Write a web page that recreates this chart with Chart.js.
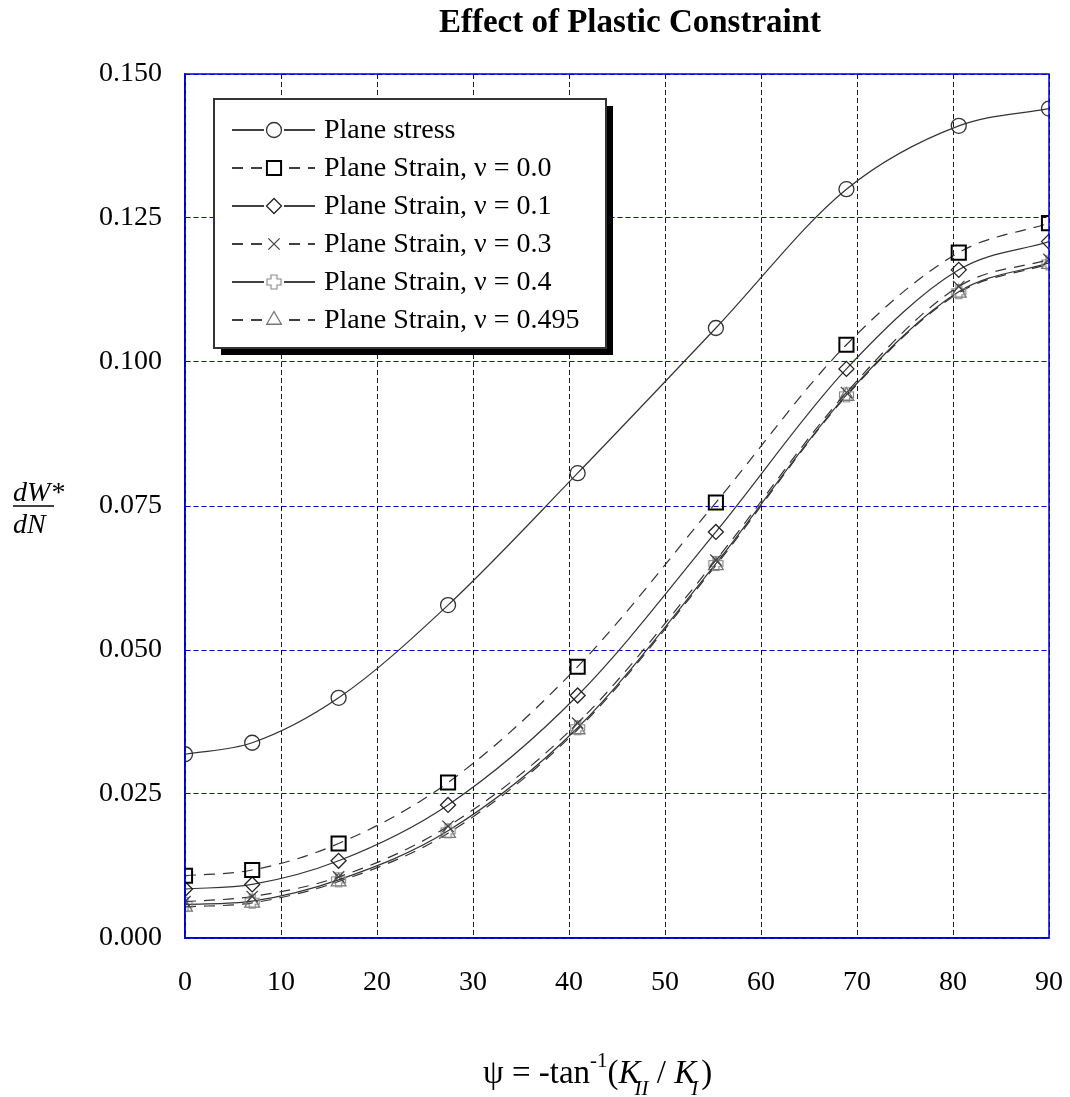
<!DOCTYPE html>
<html>
<head>
<meta charset="utf-8">
<script src="https://cdn.jsdelivr.net/npm/chart.js@4/dist/chart.umd.min.js"></script>
<style>
  html, body { margin: 0; padding: 0; background: #fff; }
  #wrap { width: 1070px; height: 1097px; position: relative; }
</style>
</head>
<body>
<div id="wrap"><canvas id="c"></canvas></div>
<script>
// psi angles (deg) where the runs were done
const psiVals = [0, 7, 16, 27.4, 40.9, 55.3, 68.9, 80.6, 90];

const planeStress = [0.0319, 0.0339, 0.0417, 0.0578, 0.0807, 0.1059, 0.1300, 0.1410, 0.1440];
const strainNu00  = [0.0108, 0.0118, 0.0164, 0.0270, 0.0471, 0.0756, 0.1030, 0.1190, 0.1241];
const strainNu01  = [0.0085, 0.0093, 0.0134, 0.0231, 0.0421, 0.0705, 0.0988, 0.1160, 0.1209];
const strainNu03  = [0.0063, 0.0072, 0.0106, 0.0194, 0.0373, 0.0656, 0.0947, 0.1131, 0.1178];
const strainNu04  = [0.0058, 0.0064, 0.0101, 0.0186, 0.0365, 0.0650, 0.0943, 0.1122, 0.1172];
const strainNu495 = [0.0054, 0.0061, 0.0098, 0.0182, 0.0362, 0.0647, 0.0941, 0.1120, 0.1170];

const seriesLabels = [
  'Plane stress',
  'Plane Strain, \u03bd = 0.0',
  'Plane Strain, \u03bd = 0.1',
  'Plane Strain, \u03bd = 0.3',
  'Plane Strain, \u03bd = 0.4',
  'Plane Strain, \u03bd = 0.495'
];

const xTicks = [0, 10, 20, 30, 40, 50, 60, 70, 80, 90];
const yTicks = [0, 0.025, 0.05, 0.075, 0.1, 0.125, 0.15];

const SERIF = '"Liberation Serif", "Times New Roman", serif';
const BLUE = '#0000d0';
const DASH = [11, 8];

// hollow plus marker, as in the original plot
function hollowPlus(color) {
  const cv = document.createElement('canvas');
  cv.width = 17; cv.height = 17;
  const g = cv.getContext('2d');
  const a = 5.5, b = 11.5, lo = 1.5, hi = 15.5;
  g.strokeStyle = color;
  g.lineWidth = 1.2;
  g.beginPath();
  g.moveTo(a, lo); g.lineTo(b, lo); g.lineTo(b, a); g.lineTo(hi, a);
  g.lineTo(hi, b); g.lineTo(b, b); g.lineTo(b, hi); g.lineTo(a, hi);
  g.lineTo(a, b); g.lineTo(lo, b); g.lineTo(lo, a); g.lineTo(a, a);
  g.closePath();
  g.stroke();
  return cv;
}

function pts(ys) {
  return ys.map((y, i) => ({ x: psiVals[i], y }));
}

function series(label, ys, opts) {
  return Object.assign({
    label,
    data: pts(ys),
    borderColor: '#333',
    borderWidth: 1.2,
    cubicInterpolationMode: 'monotone',
    pointBackgroundColor: 'rgba(0,0,0,0)',
    pointBorderWidth: 1.3,
    pointHoverRadius: 0
  }, opts);
}

const datasets = [
  series(seriesLabels[0], planeStress, { pointStyle: 'circle', pointRadius: 7.5, pointBorderColor: '#333' }),
  series(seriesLabels[1], strainNu00, { borderDash: DASH, pointStyle: 'rect', pointRadius: 10, pointBorderColor: '#000', pointBorderWidth: 2 }),
  series(seriesLabels[2], strainNu01, { pointStyle: 'rectRot', pointRadius: 7.5, pointBorderColor: '#222' }),
  series(seriesLabels[3], strainNu03, { borderDash: DASH, pointStyle: 'crossRot', pointRadius: 8, pointBorderColor: '#444' }),
  series(seriesLabels[4], strainNu04, { pointStyle: hollowPlus('#888'), pointRadius: 8, pointBorderColor: '#888' }),
  series(seriesLabels[5], strainNu495, { borderDash: DASH, pointStyle: 'triangle', pointRadius: 8.5, pointBorderColor: '#777' })
];

// frame, axis titles and the boxed legend
const decor = {
  id: 'decor',
  afterDatasetsDraw(chart) {
    const { ctx, chartArea: a } = chart;
    ctx.save();
    ctx.strokeStyle = BLUE;
    ctx.lineWidth = 1.5;
    ctx.setLineDash([]);
    ctx.strokeRect(a.left, a.top, a.right - a.left, a.bottom - a.top);

    // legend box with drop shadow
    const bx = 214, by = 99, bw = 392, bh = 249;
    ctx.fillStyle = '#000';
    ctx.fillRect(bx + 7, by + 7, bw, bh);
    ctx.fillStyle = '#fff';
    ctx.fillRect(bx, by, bw, bh);
    ctx.strokeStyle = '#333';
    ctx.lineWidth = 2;
    ctx.strokeRect(bx, by, bw, bh);

    chart.data.datasets.forEach((ds, i) => {
      const y = 130 + i * 38;
      ctx.strokeStyle = '#000';
      ctx.lineWidth = 1.3;
      ctx.setLineDash(ds.borderDash || []);
      ctx.beginPath();
      ctx.moveTo(232, y);
      ctx.lineTo(315, y);
      ctx.stroke();
      ctx.setLineDash([]);
      ctx.fillStyle = '#fff';
      ctx.fillRect(264, y - 9, 20, 18);
      ctx.strokeStyle = ds.pointBorderColor;
      ctx.fillStyle = 'rgba(0,0,0,0)';
      ctx.lineWidth = ds.pointBorderWidth;
      Chart.helpers.drawPoint(ctx, { pointStyle: ds.pointStyle, radius: ds.pointRadius, borderWidth: ds.pointBorderWidth, rotation: 0 }, 274, y);
      ctx.fillStyle = '#000';
      ctx.font = '28px ' + SERIF;
      ctx.textAlign = 'left';
      ctx.textBaseline = 'middle';
      ctx.fillText(ds.label, 324, y + 1);
    });

    // title
    ctx.fillStyle = '#000';
    ctx.font = 'bold 33px ' + SERIF;
    ctx.textAlign = 'center';
    ctx.textBaseline = 'alphabetic';
    ctx.fillText('Effect of Plastic Constraint', 630, 32);

    // y title: dW*/dN fraction
    ctx.font = 'italic 28px ' + SERIF;
    ctx.textAlign = 'left';
    ctx.fillText('dW*', 13, 501);
    ctx.fillText('dN', 13, 533);
    ctx.lineWidth = 1.5;
    ctx.strokeStyle = '#000';
    ctx.beginPath();
    ctx.moveTo(13, 506);
    ctx.lineTo(54, 506);
    ctx.stroke();

    // x title: psi = -tan^-1(K_II / K_I)
    let x = 483;
    const base = 1083;
    const part = (txt, font, dy, adv) => {
      ctx.font = font;
      ctx.fillText(txt, x, base + dy);
      x += adv === undefined ? ctx.measureText(txt).width : adv;
    };
    const norm = '33px ' + SERIF;
    const ital = 'italic 33px ' + SERIF;
    const small = '21px ' + SERIF;
    const smallI = 'italic 21px ' + SERIF;
    part('\u03c8 = -tan', norm, 0);
    part('-1', small, -16);
    part('(', norm, 0);
    part('K', ital, 0, 16);
    part('II', smallI, 12);
    part(' / ', norm, 0);
    part('K', ital, 0, 17);
    part('I', smallI, 12);
    x += 3;
    part(')', norm, 0);
    ctx.restore();
  }
};

new Chart(document.getElementById('c'), {
  type: 'line',
  data: { datasets },
  plugins: [decor],
  options: {
    responsive: true,
    maintainAspectRatio: false,
    animation: false,
    layout: { padding: { left: 0, right: 21, top: 74, bottom: 0 } },
    plugins: {
      legend: { display: false },
      tooltip: { enabled: false },
      title: { display: false }
    },
    scales: {
      x: {
        type: 'linear',
        min: 0,
        max: 90,
        afterFit: s => { s.height = 159; s.paddingLeft = 0; s.paddingRight = 0; },
        afterBuildTicks: s => { s.ticks = xTicks.map(v => ({ value: v })); },
        grid: { color: BLUE, lineWidth: 1, drawTicks: false },
        border: { color: BLUE, width: 1.5, dash: [5, 3] },
        ticks: {
          padding: 28,
          color: '#000',
          font: { family: SERIF, size: 28 },
          maxRotation: 0,
          callback: v => String(v)
        }
      },
      y: {
        type: 'linear',
        min: 0,
        max: 0.15,
        afterFit: s => { s.width = 185; s.paddingTop = 0; s.paddingBottom = 0; },
        afterBuildTicks: s => { s.ticks = yTicks.map(v => ({ value: v })); },
        grid: { color: BLUE, lineWidth: 1, drawTicks: false },
        border: { color: BLUE, width: 1.5, dash: [5, 3] },
        ticks: {
          padding: 23,
          color: '#000',
          font: { family: SERIF, size: 28 },
          callback: v => v.toFixed(3)
        }
      }
    }
  }
});
</script>
</body>
</html>
